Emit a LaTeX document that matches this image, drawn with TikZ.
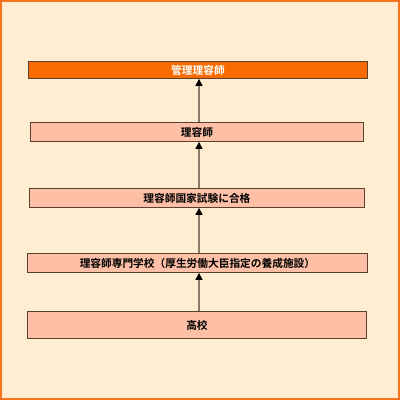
\documentclass[tikz,border=0pt]{standalone}
\usepackage{fontspec}
\newfontfamily\cjk{Noto Sans CJK JP}[BoldFont={* Bold}]
\usetikzlibrary{arrows.meta}
\definecolor{bgc}{HTML}{FEEDD0}
\definecolor{framec}{HTML}{F7731E}
\definecolor{topc}{HTML}{F76B00}
\definecolor{boxc}{HTML}{FDC0A6}
\definecolor{edgec}{HTML}{5A4030}
\definecolor{linec}{HTML}{8A7A68}
\tikzset{
  stepbox/.style={draw=edgec, line width=0.9pt, fill=boxc, anchor=north west, inner sep=0pt,
    font=\cjk\bfseries\fontsize{10.7}{12}\selectfont, text=black},
  topbox/.style={stepbox, fill=topc, text=white},
  conn/.style={draw=linec, line width=1.1pt, -{Triangle[length=7pt,width=7pt,fill=black,color=black]}}
}
\begin{document}
\begin{tikzpicture}[x=1pt,y=-1pt]
\useasboundingbox (0,0) rectangle (400,400);
\fill[bgc] (0,0) rectangle (400,400);
\draw[framec, line width=2pt] (1,1) rectangle (399,399);
\node[topbox, minimum width=339pt, minimum height=17pt] (n1) at (28,61) {管理理容師};
\node[stepbox, minimum width=333pt, minimum height=19pt] (n2) at (30,122) {理容師};
\node[stepbox, minimum width=335pt, minimum height=19pt] (n3) at (29,188) {理容師国家試験に合格};
\node[stepbox, minimum width=340pt, minimum height=19pt] (n4) at (27,253) {理容師専門学校（厚生労働大臣指定の養成施設）};
\node[stepbox, minimum width=339pt, minimum height=27pt] (n5) at (27,311) {高校};
\draw[conn] (n2.north -| 199,0) -- (n1.south -| 199,0);
\draw[conn] (n3.north -| 199,0) -- (n2.south -| 199,0);
\draw[conn] (n4.north -| 199,0) -- (n3.south -| 199,0);
\draw[conn] (n5.north -| 199,0) -- (n4.south -| 199,0);
\end{tikzpicture}
\end{document}
